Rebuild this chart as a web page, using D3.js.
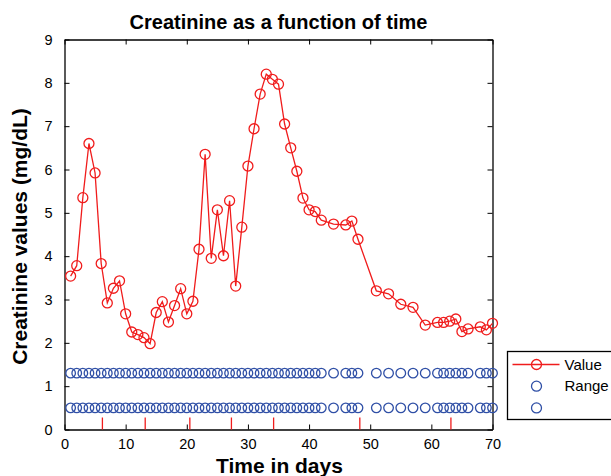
<!DOCTYPE html>
<html>
<head>
<meta charset="utf-8">
<script src="https://cdn.jsdelivr.net/npm/d3@7"></script>
<style>
  body { margin: 0; background: #fff; }
  svg { display: block; font-family: "Liberation Sans", Arial, sans-serif; }
</style>
</head>
<body>
<svg id="chart" width="611" height="476"></svg>
<script>
// measurement days and creatinine values (mg/dL)
const days = [1, 2, 3, 4, 5, 6, 7, 8, 9, 10, 11, 12, 13, 14, 15, 16, 17, 18, 19, 20,
  21, 22, 23, 24, 25, 26, 27, 28, 29, 30, 31, 32, 33, 34, 35, 36, 37, 38, 39, 40,
  41, 42, 44, 46, 47, 48, 51, 53, 55, 57, 59, 61, 62, 63, 64, 65, 66, 68, 69, 70];
const values = [3.54, 3.78, 5.35, 6.6, 5.92, 3.83, 2.92, 3.26, 3.43, 2.67, 2.25, 2.19, 2.12, 1.98, 2.7, 2.95, 2.48, 2.86, 3.25, 2.67,
  2.96, 4.16, 6.35, 3.95, 5.07, 4.01, 5.28, 3.31, 4.67, 6.08, 6.94, 7.74, 8.2, 8.08, 7.97, 7.05, 6.5, 5.96, 5.34, 5.07,
  5.03, 4.83, 4.74, 4.72, 4.81, 4.39, 3.2, 3.13, 2.89, 2.82, 2.41, 2.47, 2.47, 2.5, 2.55, 2.26, 2.32, 2.37, 2.3, 2.45];
// normal range limits
const rangeLow = 0.5;
const rangeHigh = 1.3;
// event markers on the time axis
const events = [6.2, 13.2, 20.5, 27.3, 34.2, 48.3, 63.2];

const xTicks = [0, 10, 20, 30, 40, 50, 60, 70];
const yTicks = [0, 1, 2, 3, 4, 5, 6, 7, 8, 9];
const legendLabels = ["Value", "Range", ""];

var svg = d3.select("#chart"),
  margin = { top: 39.5, right: 118.5, bottom: 46.5, left: 64.5 },
  width = +svg.attr("width") - margin.left - margin.right,
  height = +svg.attr("height") - margin.top - margin.bottom,
  g = svg.append("g").attr("transform", "translate(" + margin.left + "," + margin.top + ")");

var red = "#f01c1c", blue = "#2f4fa6";

var x = d3.scaleLinear().domain([0, 70]).range([0, width]);
var y = d3.scaleLinear().domain([0, 9]).range([height, 0]);

// axes box, ticks inward on all sides
g.append("g")
  .attr("transform", "translate(0," + height + ")")
  .call(d3.axisBottom(x).tickValues(xTicks).tickSizeInner(-5).tickSizeOuter(0).tickPadding(9));
g.append("g")
  .call(d3.axisTop(x).tickValues(xTicks).tickSizeInner(-5).tickSizeOuter(0).tickFormat(""));
g.append("g")
  .call(d3.axisLeft(y).tickValues(yTicks).tickSizeInner(-5).tickSizeOuter(0).tickPadding(12));
g.append("g")
  .attr("transform", "translate(" + width + ",0)")
  .call(d3.axisRight(y).tickValues(yTicks).tickSizeInner(-5).tickSizeOuter(0).tickFormat(""));

g.selectAll(".domain").attr("stroke", "#000").attr("stroke-width", 1.3);
g.selectAll(".tick line").attr("stroke", "#000");
g.selectAll(".tick text").attr("font-size", 14.5).attr("fill", "#000")
  .attr("font-family", "Liberation Sans, Arial, sans-serif");

// event ticks
g.append("g").selectAll("line").data(events).enter().append("line")
  .attr("x1", (d) => x(d)).attr("x2", (d) => x(d))
  .attr("y1", height).attr("y2", height - 12)
  .attr("stroke", red).attr("stroke-width", 1.3);

// range markers
[rangeLow, rangeHigh].forEach(function (r) {
  g.append("g").selectAll("circle").data(days).enter().append("circle")
    .attr("cx", (d) => x(d)).attr("cy", y(r)).attr("r", 4.8)
    .attr("fill", "none").attr("stroke", blue).attr("stroke-width", 1.3);
});

// value line
var line = d3.line().x((d, i) => x(days[i])).y((d) => y(d));
g.append("path").datum(values).attr("d", line)
  .attr("fill", "none").attr("stroke", red).attr("stroke-width", 1.3);
g.append("g").selectAll("circle").data(values).enter().append("circle")
  .attr("cx", (d, i) => x(days[i])).attr("cy", (d) => y(d)).attr("r", 5)
  .attr("fill", "none").attr("stroke", red).attr("stroke-width", 1.3);

// titles
svg.append("text").attr("x", margin.left + width / 2).attr("y", 29)
  .attr("text-anchor", "middle").attr("font-size", 20).attr("font-weight", "bold")
  .text("Creatinine as a function of time");
svg.append("text").attr("x", margin.left + width / 2 + 1).attr("y", 473)
  .attr("text-anchor", "middle").attr("font-size", 21).attr("font-weight", "bold")
  .text("Time in days");
svg.append("text")
  .attr("transform", "translate(27," + (margin.top + height / 2 + 2) + ") rotate(-90)")
  .attr("text-anchor", "middle").attr("font-size", 21).attr("font-weight", "bold")
  .text("Creatinine values (mg/dL)");

// legend
var lg = svg.append("g").attr("transform", "translate(507.5,351.5)");
lg.append("rect").attr("width", 120).attr("height", 68)
  .attr("fill", "#fff").attr("stroke", "#000").attr("stroke-width", 1.3);
var rows = lg.selectAll("g.row").data(legendLabels).enter().append("g")
  .attr("transform", (d, i) => "translate(0," + (13 + i * 21.7) + ")");
rows.filter((d, i) => i == 0).append("line")
  .attr("x1", 5).attr("x2", 52).attr("stroke", red).attr("stroke-width", 1.3);
rows.append("circle").attr("cx", 29).attr("r", 5).attr("fill", "none")
  .attr("stroke", (d, i) => (i == 0 ? red : blue)).attr("stroke-width", 1.3);
rows.append("text").attr("x", 57).attr("dy", "0.35em").attr("font-size", 15)
  .text((d) => d);
</script>
</body>
</html>
